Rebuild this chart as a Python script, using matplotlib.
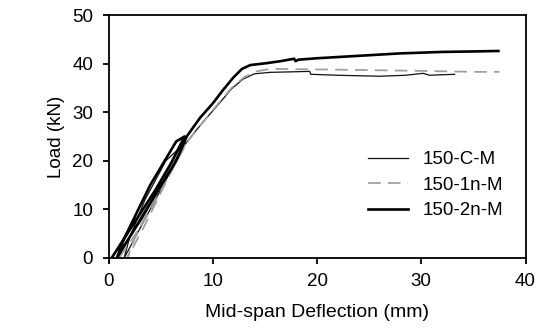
import matplotlib
matplotlib.use("Agg")
import matplotlib.pyplot as plt

plt.rcParams['font.family'] = ['Liberation Sans', 'DejaVu Sans']

# 150-C-M
cm_x = [0.8, 2.0, 3.5, 5.0, 6.5, 7.0, 5.5, 3.5, 2.0, 1.5, 3.0, 4.5, 6.0, 7.2, 8.5, 9.4, 10.5, 11.8, 12.9, 14.0, 15.5, 17.5, 19.3, 19.4, 22.0, 26.0, 28.5, 30.2, 30.8, 32.0, 33.2]
cm_y = [0.0, 4.0, 9.0, 15.0, 20.5, 23.0, 20.0, 12.0, 4.0, 0.0, 6.0, 12.0, 18.0, 23.0, 26.5, 28.8, 31.5, 34.8, 36.8, 37.9, 38.2, 38.3, 38.4, 37.8, 37.6, 37.4, 37.6, 38.0, 37.6, 37.7, 37.8]

# 150-1n-M
n1_x = [1.0, 2.3, 3.8, 5.3, 6.8, 7.5, 6.5, 4.5, 2.5, 1.8, 3.3, 4.8, 6.3, 7.6, 8.6, 9.4, 10.5, 11.8, 13.0, 14.2, 15.2, 16.1, 20.0, 23.8, 30.0, 35.0, 37.5]
n1_y = [0.0, 4.0, 9.0, 15.0, 21.0, 24.0, 21.0, 13.0, 4.0, 0.0, 6.0, 12.5, 19.0, 24.0, 26.8, 28.8, 31.7, 35.0, 37.2, 38.4, 38.8, 38.9, 38.8, 38.7, 38.5, 38.3, 38.3]

# 150-2n-M
n2_x = [0.3, 1.5, 3.0, 4.5, 6.0, 7.3, 6.5, 4.0, 1.5, 0.8, 2.5, 4.5, 6.5, 7.5, 8.8, 10.0, 11.0, 12.0, 12.8, 13.6, 15.2, 16.5, 17.8, 17.95, 18.2, 20.0, 24.0, 28.0, 32.0, 35.0, 37.4]
n2_y = [0.0, 4.0, 9.0, 14.0, 19.5, 25.0, 24.0, 15.0, 4.0, 0.0, 6.0, 13.0, 20.0, 25.0, 28.9, 31.8, 34.6, 37.2, 38.9, 39.7, 40.1, 40.5, 41.0, 40.5, 40.8, 41.1, 41.6, 42.1, 42.4, 42.5, 42.6]

labels = ["150-C-M", "150-1n-M", "150-2n-M"]
x_ticks = [0, 10, 20, 30, 40]
y_ticks = [0, 10, 20, 30, 40, 50]

fig = plt.figure(figsize=(5.44, 3.30), dpi=100)
ax = fig.add_axes([108.5 / 544, 1 - 258 / 330, 417 / 544, 243 / 330])

ax.plot(cm_x, cm_y, color='#111111', lw=0.9, label=labels[0])
ax.plot(n1_x, n1_y, color='#a0a0a0', lw=1.3, ls=(0, (7, 4)), label=labels[1])
ax.plot(n2_x, n2_y, color='black', lw=1.9, label=labels[2])

ax.set_xlim(0, 40)
ax.set_ylim(0, 50)
ax.set_xticks(x_ticks)
ax.set_yticks(y_ticks)
for s in ax.spines.values():
    s.set_linewidth(1.3)
ax.tick_params(direction='out', length=4, width=1.3, labelsize=13.5, pad=7)
ax.tick_params(top=False, right=False)
ax.set_xlabel("Mid-span Deflection (mm)", fontsize=14)
ax.set_ylabel("Load (kN)", fontsize=13.5)
ax.xaxis.set_label_coords(0.5, -0.19)
ax.yaxis.set_label_coords(-0.105, 0.5)

ax.legend(loc='upper left', bbox_to_anchor=(0.622, 0.44), frameon=False, fontsize=13.5,
          handlelength=2.13, handletextpad=0.8, labelspacing=0.45,
          borderpad=0, borderaxespad=0)

fig.savefig("out.png", dpi=100)
